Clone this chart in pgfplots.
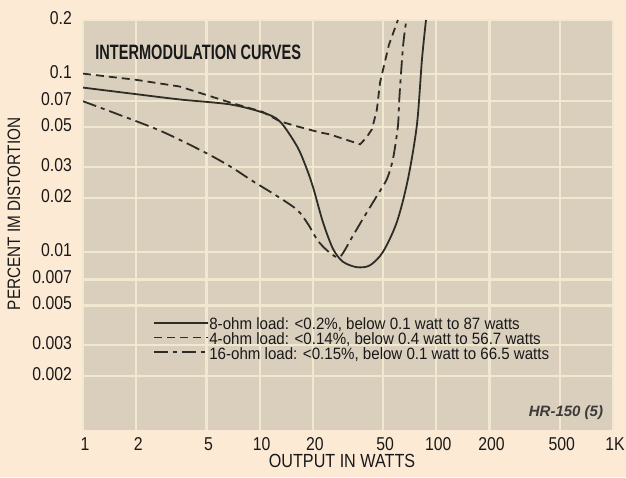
\documentclass[border=0pt]{standalone}
\usepackage{fontspec}
\setmainfont{Liberation Sans}[FakeStretch=0.85]
\newfontfamily\titlefont{Liberation Sans}[FakeStretch=0.7]
\newfontfamily\legfont{Liberation Sans}[FakeStretch=0.92]
\newfontfamily\hrfont{Liberation Sans}
\usepackage{pgfplots}
\pgfplotsset{compat=1.18}
\definecolor{pagebg}{RGB}{252,234,213}
\definecolor{plotbg}{RGB}{218,207,189}
\definecolor{gridc}{RGB}{241,232,208}
\definecolor{curve}{RGB}{45,45,38}
\definecolor{tickc}{RGB}{25,25,25}
\begin{document}
\begin{tikzpicture}
\useasboundingbox (-41.5pt,-23.5pt) rectangle (271.5pt,215pt);
\fill[pagebg] (-41.5pt,-23.5pt) rectangle (271.5pt,215pt);
\begin{axis}[
  at={(0pt,0pt)}, anchor=south west,
  scale only axis, width=265pt, height=205pt,
  xmode=log, ymode=log,
  xmin=1, xmax=1000, ymin=0.001, ymax=0.2,
  xtick={1,2,5,10,20,50,100,200,500,1000},
  xticklabels={1,2,5,10,20,50,100,200,500,1K},
  ytick={0.002,0.003,0.005,0.007,0.01,0.02,0.03,0.05,0.07,0.1,0.2},
  yticklabels={0.002,0.003,0.005,0.007,0.01,0.02,0.03,0.05,0.07,0.1,0.2},
  /pgf/number format/assume math mode=true,
  xmajorgrids=true, ymajorgrids=true,
  major grid style={color=gridc, line width=1.1pt},
  major tick length=0pt, minor tick length=0pt,
  axis line style={draw=none},
  axis background/.style={fill=plotbg},
  ticklabel style={font=\fontsize{9.3}{10}\selectfont, text=tickc},
  yticklabel style={xshift=-2pt, yshift=1pt},
  xticklabel style={xshift=1pt, inner sep=1pt, yshift=-2.6pt},
  legend cell align=left,
  legend style={at={(0.132,0.275)}, anchor=north west, draw=none, fill=none,
    font=\legfont\fontsize{8.2}{7}\selectfont, text=tickc, row sep=0pt, inner sep=0pt,
    nodes={inner sep=0.1pt, text height=5.9pt, text depth=1.3pt}},
  legend image code/.code={\draw[#1] (0pt,1.2pt) -- (27pt,1.2pt);},
]
\addplot[curve, line width=0.9pt, smooth, tension=0.5] coordinates {
 (1,0.0835) (2,0.0767) (3.54,0.0716) (6.79,0.0672) (10.4,0.0605) (13.0,0.054)
 (16.3,0.039) (18.5,0.0291) (20.2,0.0225) (22.8,0.0147) (26.0,0.0104) (29.6,0.0088)
 (35.5,0.0082) (42.1,0.0084) (49.9,0.0100) (59.8,0.0147) (69.1,0.0256)
 (77.7,0.0519) (82.9,0.1197) (87.4,0.2)};
\addlegendentry{8-ohm load: <0.2\%, below 0.1 watt to 87 watts}
\addplot[curve, line width=0.9pt, dash pattern=on 4pt off 2.5pt] coordinates {
 (1,0.1) (2,0.0923) (3.54,0.0846) (6.79,0.0689) (10.4,0.061) (13,0.054)
 (16.3,0.0506) (21.9,0.0468) (25,0.0456) (37,0.0401) (40,0.0435) (43.2,0.0487)
 (46.1,0.063) (48,0.089) (53.9,0.145) (60.6,0.2)};
\addlegendentry{4-ohm load: <0.14\%, below 0.4 watt to 56.7 watts}
\addplot[curve, line width=0.9pt, dash pattern=on 7pt off 2.5pt on 2pt off 2.5pt, smooth, tension=0.45] coordinates {
 (1,0.07) (2.62,0.0487) (4.78,0.0366) (6.79,0.0302) (9.16,0.0249) (12.5,0.0206)
 (16.3,0.0172) (18.8,0.0143) (21.4,0.0115) (25,0.00986) (28.5,0.00937) (33.7,0.0123)
 (38.4,0.0153) (46.1,0.0206) (52.5,0.0256) (56.8,0.0331) (60.6,0.0506)
 (61.8,0.0734) (64.7,0.1399) (67.3,0.193) (68,0.2)};
\addlegendentry{16-ohm load: <0.15\%, below 0.1 watt to 66.5 watts}
\end{axis}
\node[rotate=90, font=\fontsize{9}{10}\selectfont, text=tickc] at (-34.5pt,108pt) {PERCENT IM DISTORTION};
\node[inner sep=0pt, font=\fontsize{9.5}{10}\selectfont, text=tickc] at (129.5pt,-15.3pt) {OUTPUT IN WATTS};
\node[anchor=west, inner sep=0pt, font=\titlefont\bfseries\fontsize{10.4}{11}\selectfont, text=tickc] at (6pt,189pt) {INTERMODULATION CURVES};
\node[font=\hrfont\bfseries\itshape\fontsize{7.5}{8}\selectfont, text=tickc!85] at (241.5pt,8.5pt) {HR-150 (5)};
\end{tikzpicture}
\end{document}
